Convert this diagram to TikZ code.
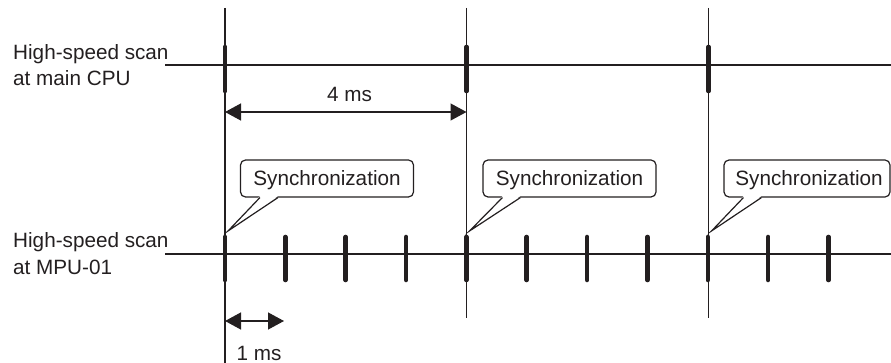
\documentclass[tikz,border=0pt]{standalone}
\usepackage{fontspec}
\setmainfont{Liberation Sans}
\usetikzlibrary{arrows.meta,calc}
\definecolor{ink}{HTML}{231F20}
\begin{document}
\begin{tikzpicture}[x=1pt,y=-1pt,
  color=ink,
  font=\fontsize{20.7}{26}\selectfont,
  axis/.style={line width=1.5pt},
  guide/.style={line width=1.1pt},
  tick/.style={line width=4.6pt, line cap=round},
  dim/.style={line width=1.3pt,
    {Triangle[length=16pt,width=17pt]}-{Triangle[length=16pt,width=17pt]}},
  bubble/.style={draw, line width=1.2pt, rounded corners=5pt,
    minimum height=37pt, inner sep=0pt},
  lbl/.style={anchor=base, inner sep=0pt},
  rowlbl/.style={anchor=base west, inner sep=0pt},
]
\useasboundingbox (0,0) rectangle (891,363);

% row labels
\node[rowlbl] (cpuA) at (13,60) {High-speed scan};
\node[rowlbl] (cpuB) at (13,86) {at main CPU};
\node[rowlbl] (mpuA) at (13,248) {High-speed scan};
\node[rowlbl] (mpuB) at (13,274) {at MPU-01};

% time axes
\coordinate (cpuL) at (165,65);  \coordinate (cpuR) at (891,65);
\coordinate (mpuL) at (165,254); \coordinate (mpuR) at (891,254);
\draw[axis] (cpuL) -- (cpuR);
\draw[axis] (mpuL) -- (mpuR);

% synchronisation guide lines
\coordinate (g1t) at (225,8);   \coordinate (g1b) at (225,363);
\coordinate (g2t) at (466.5,8); \coordinate (g2b) at (466.5,318);
\coordinate (g3t) at (708.5,8); \coordinate (g3b) at (708.5,318);
\draw[guide] (g1t) -- (g1b);
\draw[guide] (g2t) -- (g2b);
\draw[guide] (g3t) -- (g3b);

% main CPU scan marks (every 4 ms)
\foreach \x in {225,466.5,708.5}
  \draw[tick] (\x,47) -- (\x,91);

% MPU-01 scan marks (every 1 ms)
\foreach \k in {0,...,10}
  \draw[tick] ({225+60.35*\k},237) -- ({225+60.35*\k},280);

% 4 ms dimension
\coordinate (d4a) at (225,112); \coordinate (d4b) at (466.5,112);
\draw[dim] (d4a) -- (d4b);
\node[lbl] (t4) at (349.5,102) {4 ms};

% 1 ms dimension
\coordinate (d1a) at (225,321); \coordinate (d1b) at (284,321);
\draw[dim] (d1a) -- (d1b);
\node[lbl] (t1) at (259,360) {1 ms};

% callouts
\foreach \n/\cx/\w/\tx/\gx in {1/327/173/327/225, 2/569.5/173/569.5/466.5, 3/807/166/809/708.5}{
  \node[bubble, fill=white, minimum width=\w pt] (b\n) at (\cx,178.5) {};
  \node[lbl] (s\n) at (\tx,186) {Synchronization};
  \coordinate (pa\n) at ($(b\n.south west)+(20,0)$);
  \coordinate (pb\n) at ($(b\n.south west)+(38,0)$);
  \coordinate (tip\n) at (\gx+3,231);
  \fill[white] ($(pa\n)+(0,-1.5)$) -- (tip\n) -- ($(pb\n)+(0,-1.5)$) -- cycle;
  \draw[line width=1.2pt, line join=miter] (pa\n) -- (tip\n) -- (pb\n);
}
\end{tikzpicture}
\end{document}
